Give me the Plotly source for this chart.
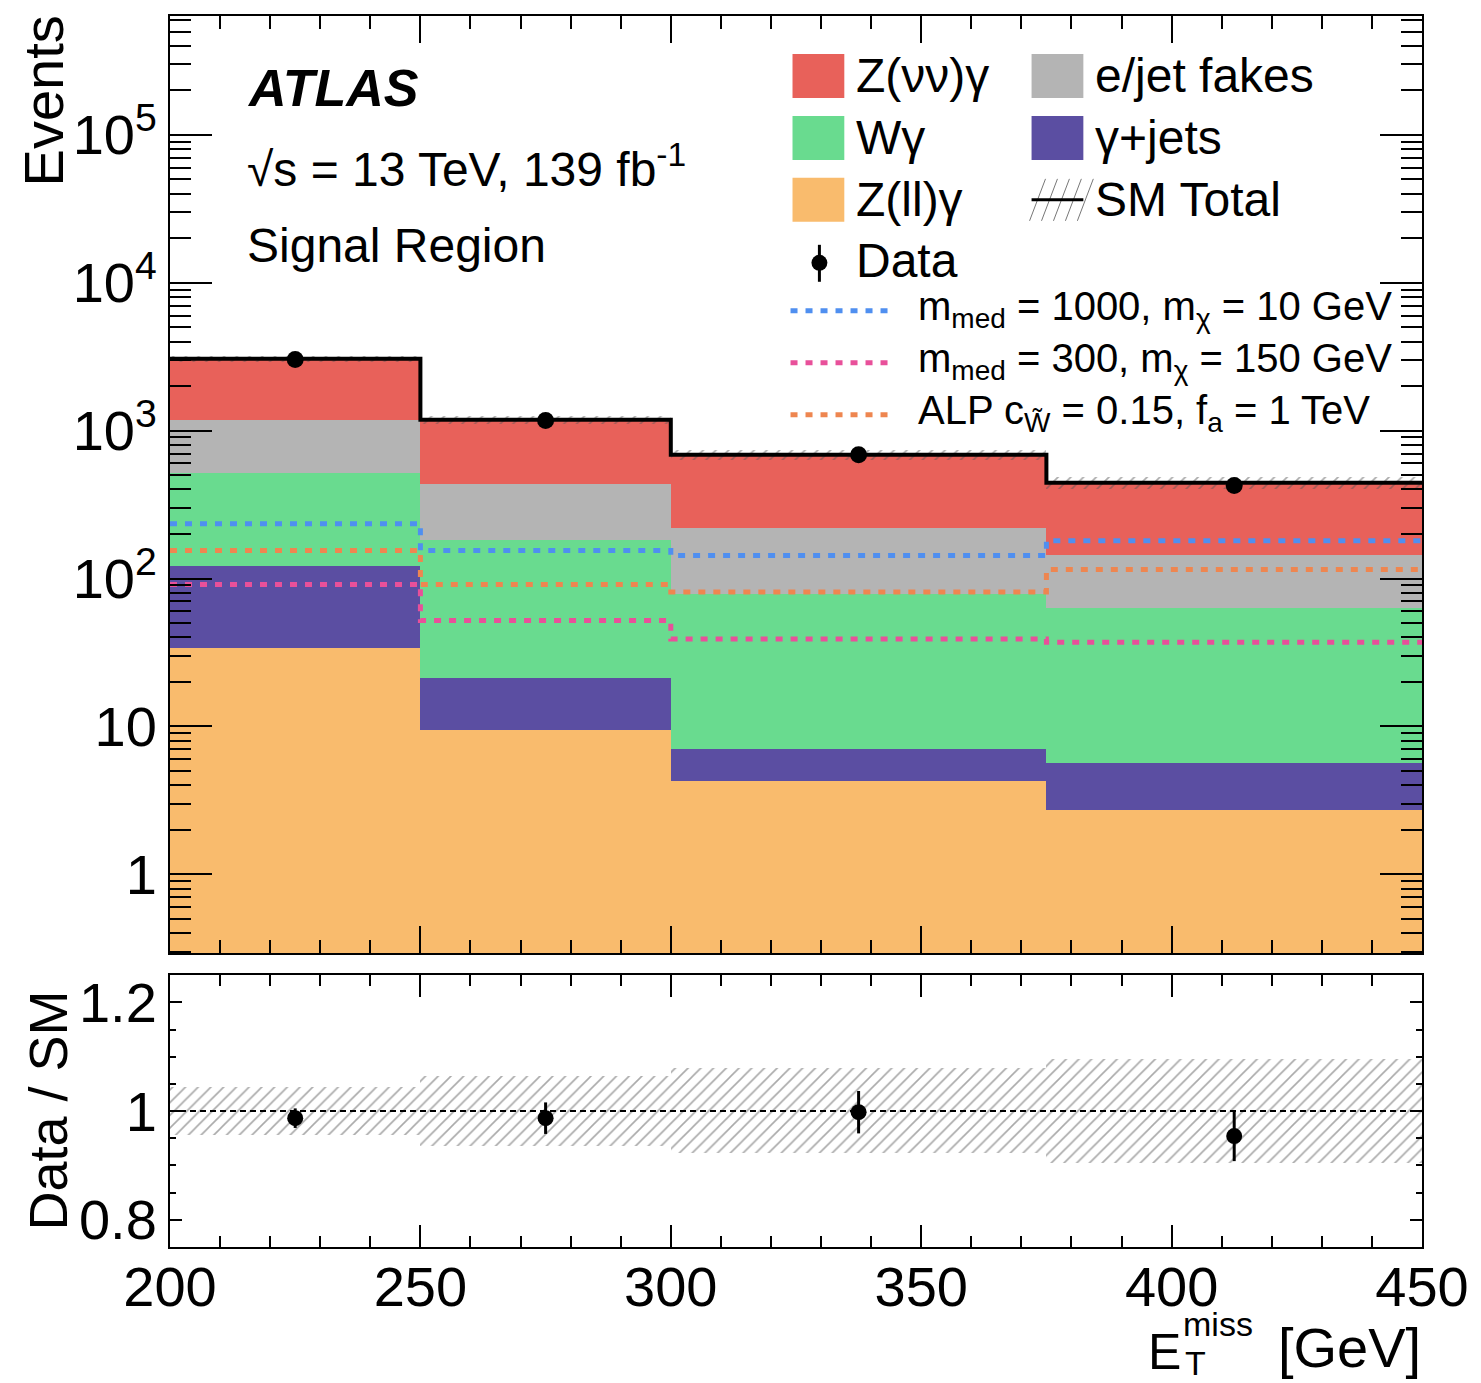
import numpy as np
import plotly.graph_objects as go

# ---------------- data ----------------
bin_edges = [200, 250, 300, 375, 450]
z_ll_gamma = [33.7, 9.4, 4.25, 2.71]
gamma_jets = [88.0, 12.0, 2.75, 2.9]
w_gamma = [398.0, 160.0, 71.0, 58.0]
ejet_fakes = [666.0, 251.0, 140.0, 81.0]
z_nunu_gamma = [1878.0, 754.0, 470.0, 300.0]
data_counts = [3024, 1171, 687, 425]
data_stat_err = [55, 34, 26, 21]
sm_rel_unc = [0.044, 0.064, 0.078, 0.096]
ratio_vals = [0.987, 0.987, 0.998, 0.954]
ratio_err = [0.018, 0.029, 0.039, 0.046]
sig_dm_1000_10 = [235, 155, 143, 180]
sig_dm_300_150 = [91, 52, 39, 37]
sig_alp = [155, 91, 81, 115]

# ---------------- derived ----------------
edges = np.array(bin_edges, dtype=float)
centers = (edges[:-1] + edges[1:]) / 2
widths = np.diff(edges)
components = [
    ("Z(ll)γ", z_ll_gamma, "#f9bb6d"),
    ("γ+jets", gamma_jets, "#5b4ea2"),
    ("Wγ", w_gamma, "#69db8f"),
    ("e/jet fakes", ejet_fakes, "#b4b4b4"),
    ("Z(νν)γ", z_nunu_gamma, "#e8615a"),
]
total = np.sum([np.array(c[1]) for c in components], axis=0)
unc = np.array(sm_rel_unc)

FONT = "Liberation Sans, Arial, sans-serif"
W, H = 1481, 1383
L, R, T, B = 170, 1427, 15, 1247


def PX(x):
    return (x - L) / (R - L)


def PY(y):
    return (B - y) / (B - T)


fig = go.Figure()

base = np.full(4, 0.01)
for name, vals, col in components:
    v = np.array(vals, dtype=float)
    fig.add_trace(go.Bar(x=centers, y=v, base=base.copy(), width=widths,
                         marker=dict(color=col, line=dict(width=0)),
                         name=name, showlegend=False, xaxis="x", yaxis="y"))
    base = base + v


def step(vals):
    return list(vals) + [vals[-1]]


for vals, col in [(sig_dm_1000_10, "#4f8ff0"), (sig_dm_300_150, "#e8509a"), (sig_alp, "#ee8650")]:
    fig.add_trace(go.Scatter(x=edges, y=step(vals), mode="lines", line_shape="hv",
                             line=dict(color=col, width=5, dash="7px,8px"),
                             showlegend=False, xaxis="x", yaxis="y"))

hatch = dict(shape="/", fgcolor="#555555", bgcolor="rgba(0,0,0,0)", size=9, solidity=0.18,
             fillmode="overlay")
fig.add_trace(go.Bar(x=centers, y=2 * total * unc, base=total * (1 - unc), width=widths,
                     marker=dict(color="rgba(0,0,0,0)", line=dict(width=0), pattern=hatch),
                     showlegend=False, xaxis="x", yaxis="y"))

fig.add_trace(go.Scatter(x=edges, y=step(total), mode="lines", line_shape="hv",
                         line=dict(color="black", width=4), showlegend=False,
                         xaxis="x", yaxis="y"))

fig.add_trace(go.Scatter(x=centers, y=data_counts, mode="markers",
                         marker=dict(color="black", size=17),
                         error_y=dict(type="data", array=data_stat_err, color="black", thickness=3, width=0),
                         showlegend=False, xaxis="x", yaxis="y"))

fig.add_trace(go.Bar(x=centers, y=2 * unc, base=1 - unc, width=widths,
                     marker=dict(color="rgba(0,0,0,0)", line=dict(width=0), pattern=hatch),
                     showlegend=False, xaxis="x2", yaxis="y2"))
fig.add_trace(go.Scatter(x=centers, y=ratio_vals, mode="markers",
                         marker=dict(color="black", size=16),
                         error_y=dict(type="data", array=ratio_err, color="black", thickness=3, width=0),
                         showlegend=False, xaxis="x2", yaxis="y2"))

fig.update_layout(barmode="overlay", bargap=0)

tickfont = dict(family=FONT, size=56, color="black")
common_x = dict(range=[200, 450], showgrid=False, zeroline=False, showline=True, linecolor="black",
                linewidth=2, mirror="ticks", ticks="inside", tickwidth=2, tickcolor="black",
                tickvals=[200, 250, 300, 350, 400, 450], tickfont=tickfont)
minor_vals = []
for d in range(-1, 6):
    for k in range(2, 10):
        minor_vals.append(k * 10 ** d)

fig.update_layout(
    width=W, height=H,
    margin=dict(l=L, r=W - R, t=T, b=H - B, pad=0),
    paper_bgcolor="white", plot_bgcolor="white",
    font=dict(family=FONT, color="black"),
    xaxis=dict(**common_x, domain=[0, 1], anchor="y", showticklabels=False, ticklen=27,
               minor=dict(dtick=10, tick0=200, ticks="inside", ticklen=13, tickwidth=2, tickcolor="black")),
    yaxis=dict(domain=[(B - 953) / (B - T), 1], anchor="x", type="log", range=[-0.534, 5.804],
               showgrid=False, zeroline=False, showline=True, linecolor="black", linewidth=2,
               mirror="ticks", ticks="inside", ticklen=42, tickwidth=2, tickcolor="black",
               tickvals=[1, 10, 100, 1e3, 1e4, 1e5],
               ticktext=["1", "10", "10<sup>2</sup>", "10<sup>3</sup>", "10<sup>4</sup>", "10<sup>5</sup>"],
               tickfont=tickfont,
               minor=dict(tickmode="array", tickvals=minor_vals, ticks="inside", ticklen=21,
                          tickwidth=2, tickcolor="black")),
    xaxis2=dict(**common_x, domain=[0, 1], anchor="y2", showticklabels=True, ticklen=22,
                ticklabelstandoff=-10,
                minor=dict(dtick=10, tick0=200, ticks="inside", ticklen=11, tickwidth=2, tickcolor="black")),
    yaxis2=dict(domain=[0, (B - 975) / (B - T)], anchor="x2", range=[0.75, 1.25],
                showgrid=False, zeroline=False, showline=True, linecolor="black", linewidth=2,
                mirror="ticks", ticks="inside", ticklen=12, tickwidth=2, tickcolor="black",
                tickvals=[0.8, 1.0, 1.2], ticktext=["0.8", "1", "1.2"], tickfont=tickfont,
                minor=dict(dtick=0.05, tick0=0.75, ticks="inside", ticklen=6, tickwidth=2, tickcolor="black")),
)

shapes = []
annotations = []

shapes.append(dict(type="line", xref="x2 domain", yref="y2", x0=0, x1=1, y0=1, y1=1,
                   line=dict(color="black", width=2, dash="6px,4px")))


def text(x, y, s, size, xanchor="left", yanchor="middle", **kw):
    annotations.append(dict(x=PX(x), y=PY(y), xref="paper", yref="paper", text=s, showarrow=False,
                            xanchor=xanchor, yanchor=yanchor,
                            font=dict(family=FONT, size=size, color="black"), **kw))


text(43, 100, "Events", 56, xanchor="center", textangle=-90)
text(48, 1110, "Data / SM", 54, xanchor="center", textangle=-90)
text(1150, 1352, "E", 50)
text(1185, 1324, "miss", 34)
text(1187, 1363, "T", 34)
text(1428, 1348, "[GeV]", 56, xanchor="right")

text(245, 87, "<b><i>ATLAS</i></b>", 52)
text(245, 165, "√s = 13 TeV, 139 fb<sup>-1</sup>", 48)
text(245, 245, "Signal Region", 48)

rows = [75, 137, 199]
col1 = [("Z(νν)γ", "#e8615a"), ("Wγ", "#69db8f"), ("Z(ll)γ", "#f9bb6d")]
col2 = [("e/jet fakes", "#b4b4b4"), ("γ+jets", "#5b4ea2")]
for (lab, col), yc in zip(col1, rows):
    shapes.append(dict(type="rect", xref="paper", yref="paper", x0=PX(795), x1=PX(847),
                       y0=PY(yc - 22), y1=PY(yc + 22), fillcolor=col, line=dict(width=0)))
    text(857, yc, lab, 48)
for (lab, col), yc in zip(col2, rows[:2]):
    shapes.append(dict(type="rect", xref="paper", yref="paper", x0=PX(1035), x1=PX(1087),
                       y0=PY(yc - 22), y1=PY(yc + 22), fillcolor=col, line=dict(width=0)))
    text(1097, yc, lab, 48)
yc = rows[2]
for i in range(5):
    x0 = 1033 + i * 12
    shapes.append(dict(type="line", xref="paper", yref="paper", x0=PX(x0), x1=PX(x0 + 16),
                       y0=PY(yc + 21), y1=PY(yc - 21), line=dict(color="#777777", width=1)))
shapes.append(dict(type="line", xref="paper", yref="paper", x0=PX(1035), x1=PX(1087),
                   y0=PY(yc), y1=PY(yc), line=dict(color="black", width=3)))
text(1097, yc, "SM Total", 48)
shapes.append(dict(type="line", xref="paper", yref="paper", x0=PX(822), x1=PX(822),
                   y0=PY(244), y1=PY(281), line=dict(color="black", width=3)))
shapes.append(dict(type="circle", xref="paper", yref="paper", x0=PX(814), x1=PX(830),
                   y0=PY(254), y1=PY(270), fillcolor="black", line=dict(width=0)))
text(857, 260, "Data", 48)
sig_entries = [
    (310, "#4f8ff0", "m<sub>med</sub> = 1000, m<sub>χ</sub> = 10 GeV"),
    (362, "#e8509a", "m<sub>med</sub> = 300, m<sub>χ</sub> = 150 GeV"),
    (414, "#ee8650", "ALP c<sub>W̃</sub> = 0.15, f<sub>a</sub> = 1 TeV"),
]
for yc, col, lab in sig_entries:
    shapes.append(dict(type="line", xref="paper", yref="paper", x0=PX(793), x1=PX(897),
                       y0=PY(yc), y1=PY(yc), line=dict(color=col, width=5, dash="7px,8px")))
    text(919, yc - 2, lab, 40)

fig.update_layout(shapes=shapes, annotations=annotations)

fig.write_html("out.html", config={"displayModeBar": False},
               post_script="document.body.style.margin='0';document.body.style.overflow='hidden';")
